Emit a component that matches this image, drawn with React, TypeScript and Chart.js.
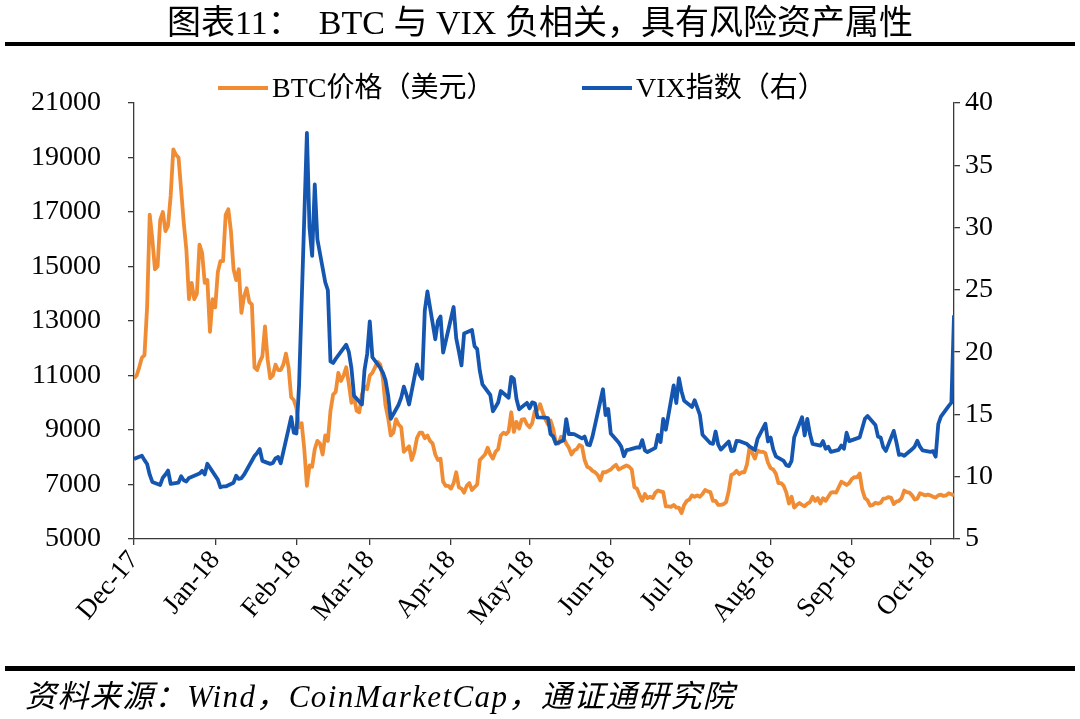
import { useEffect, useRef } from "react";
import { Chart, registerables } from "chart.js";

Chart.register(...registerables);

const titleText = "图表11：  BTC 与 VIX 负相关，具有风险资产属性";
const sourceText = "资料来源：Wind，CoinMarketCap，通证通研究院";
const btcLabel = "BTC价格（美元）";
const vixLabel = "VIX指数（右）";

const startDate = "2017-12-01";
const monthTickDates = [
  "2017-12-01", "2018-01-01", "2018-02-01", "2018-03-01", "2018-04-01", "2018-05-01",
  "2018-06-01", "2018-07-01", "2018-08-01", "2018-09-01", "2018-10-01",
];
const monthTickLabels = [
  "Dec-17", "Jan-18", "Feb-18", "Mar-18", "Apr-18", "May-18",
  "Jun-18", "Jul-18", "Aug-18", "Sep-18", "Oct-18",
];

// BTC daily price (USD), 2017-12-01 .. 2018-10-10
const btcValues = [
  // Dec 2017
  10900, 11000, 11300, 11650, 11750, 13500, 16900, 16000, 14900, 15000,
  16700, 17000, 16300, 16500, 17600, 19300, 19100, 19000, 17800, 16600,
  15600, 13800, 14400, 13800, 14000, 15800, 15500, 14400, 14500, 12600, 13800,
  // Jan 2018
  13500, 14800, 15200, 15200, 16900, 17100, 16300, 14900, 14500, 14900,
  13300, 13900, 14200, 13700, 13600, 11300, 11200, 11500, 11700, 12800,
  11600, 10900, 11000, 11400, 11200, 11200, 11400, 11800, 11300, 10200, 10100,
  // Feb
  9800, 9100, 9250, 8300, 6950, 7700, 7650, 8300, 8600, 8500,
  8100, 8800, 8600, 9700, 10300, 10400, 11100, 10800, 11000, 11300,
  10700, 10000, 10200, 9700, 9650, 10300, 10600, 10500,
  // Mar
  11000, 11100, 11300, 11500, 11400, 10900, 9900, 9450, 8800, 8900,
  9400, 9200, 9100, 8200, 8300, 8400, 7900, 8200, 8700, 8900,
  8900, 8700, 8800, 8600, 8500, 8100, 7900, 7950, 7100, 6950, 6950,
  // Apr
  6850, 7050, 7450, 6900, 6850, 6700, 6950, 7050, 6800, 6900,
  7000, 7900, 8000, 8100, 8350, 8100, 7950, 8200, 8300, 8800,
  8900, 8850, 8950, 9650, 8930, 9300, 9050, 9380, 9400, 9200,
  // May
  9100, 9250, 9700, 9750, 9950, 9650, 9400, 9200, 9350, 9050,
  8550, 8500, 8750, 8700, 8500, 8350, 8100, 8250, 8300, 8450,
  8400, 7900, 7650, 7600, 7500, 7450, 7350, 7150, 7450, 7450, 7500,
  // Jun
  7550, 7650, 7720, 7550, 7600, 7650, 7700, 7650, 7550, 6900,
  6850, 6600, 6400, 6650, 6500, 6550, 6500, 6700, 6780, 6750,
  6720, 6200, 6200, 6180, 6250, 6150, 6150, 5950, 6250, 6400,
  // Jul
  6450, 6600, 6550, 6600, 6550, 6650, 6800, 6750, 6720, 6400,
  6400, 6250, 6250, 6280, 6350, 6750, 7350, 7400, 7500, 7380,
  7450, 7450, 7750, 8380, 8150, 7950, 8250, 8200, 8200, 8150, 7800,
  // Aug
  7600, 7550, 7400, 7050, 7050, 6950, 6700, 6300, 6550, 6150,
  6250, 6320, 6250, 6200, 6300, 6350, 6550, 6400, 6500, 6300,
  6500, 6400, 6550, 6700, 6720, 6700, 6900, 7100, 7050, 6980, 7050,
  // Sep
  7200, 7270, 7260, 7400, 6800, 6500, 6420, 6220, 6250, 6330,
  6300, 6330, 6480, 6490, 6540, 6510, 6280, 6370, 6400, 6500,
  6780, 6720, 6700, 6600, 6450, 6480, 6680, 6640, 6600, 6630,
  // Oct
  6600, 6550, 6520, 6600, 6630, 6580, 6600, 6680, 6640, 6600,
];

// VIX closes on trading days
const vixDates = [
  "2017-12-01", "2017-12-04", "2017-12-05", "2017-12-06", "2017-12-07", "2017-12-08", "2017-12-11", "2017-12-12", "2017-12-13", "2017-12-14",
  "2017-12-15", "2017-12-18", "2017-12-19", "2017-12-20", "2017-12-21", "2017-12-22", "2017-12-26", "2017-12-27", "2017-12-28", "2017-12-29",
  "2018-01-02", "2018-01-03", "2018-01-04", "2018-01-05", "2018-01-08", "2018-01-09", "2018-01-10", "2018-01-11", "2018-01-12", "2018-01-16",
  "2018-01-17", "2018-01-18", "2018-01-19", "2018-01-22", "2018-01-23", "2018-01-24", "2018-01-25", "2018-01-26", "2018-01-29", "2018-01-30", "2018-01-31",
  "2018-02-01", "2018-02-02", "2018-02-05", "2018-02-06", "2018-02-07", "2018-02-08", "2018-02-09", "2018-02-12", "2018-02-13", "2018-02-14",
  "2018-02-15", "2018-02-16", "2018-02-20", "2018-02-21", "2018-02-22", "2018-02-23", "2018-02-26", "2018-02-27", "2018-02-28",
  "2018-03-01", "2018-03-02", "2018-03-05", "2018-03-06", "2018-03-07", "2018-03-08", "2018-03-09", "2018-03-12", "2018-03-13", "2018-03-14",
  "2018-03-15", "2018-03-16", "2018-03-19", "2018-03-20", "2018-03-21", "2018-03-22", "2018-03-23", "2018-03-26", "2018-03-27", "2018-03-28", "2018-03-29",
  "2018-04-02", "2018-04-03", "2018-04-04", "2018-04-05", "2018-04-06", "2018-04-09", "2018-04-10", "2018-04-11", "2018-04-12", "2018-04-13",
  "2018-04-16", "2018-04-17", "2018-04-18", "2018-04-19", "2018-04-20", "2018-04-23", "2018-04-24", "2018-04-25", "2018-04-26", "2018-04-27", "2018-04-30",
  "2018-05-01", "2018-05-02", "2018-05-03", "2018-05-04", "2018-05-07", "2018-05-08", "2018-05-09", "2018-05-10", "2018-05-11", "2018-05-14",
  "2018-05-15", "2018-05-16", "2018-05-17", "2018-05-18", "2018-05-21", "2018-05-22", "2018-05-23", "2018-05-24", "2018-05-25", "2018-05-29", "2018-05-30", "2018-05-31",
  "2018-06-01", "2018-06-04", "2018-06-05", "2018-06-06", "2018-06-07", "2018-06-08", "2018-06-11", "2018-06-12", "2018-06-13", "2018-06-14",
  "2018-06-15", "2018-06-18", "2018-06-19", "2018-06-20", "2018-06-21", "2018-06-22", "2018-06-25", "2018-06-26", "2018-06-27", "2018-06-28", "2018-06-29",
  "2018-07-02", "2018-07-03", "2018-07-05", "2018-07-06", "2018-07-09", "2018-07-10", "2018-07-11", "2018-07-12", "2018-07-13", "2018-07-16",
  "2018-07-17", "2018-07-18", "2018-07-19", "2018-07-20", "2018-07-23", "2018-07-24", "2018-07-25", "2018-07-26", "2018-07-27", "2018-07-30", "2018-07-31",
  "2018-08-01", "2018-08-02", "2018-08-03", "2018-08-06", "2018-08-07", "2018-08-08", "2018-08-09", "2018-08-10", "2018-08-13", "2018-08-14",
  "2018-08-15", "2018-08-16", "2018-08-17", "2018-08-20", "2018-08-21", "2018-08-22", "2018-08-23", "2018-08-24", "2018-08-27", "2018-08-28",
  "2018-08-29", "2018-08-30", "2018-08-31",
  "2018-09-04", "2018-09-05", "2018-09-06", "2018-09-07", "2018-09-10", "2018-09-11", "2018-09-12", "2018-09-13", "2018-09-14", "2018-09-17",
  "2018-09-18", "2018-09-19", "2018-09-20", "2018-09-21", "2018-09-24", "2018-09-25", "2018-09-26", "2018-09-27", "2018-09-28",
  "2018-10-01", "2018-10-02", "2018-10-03", "2018-10-04", "2018-10-05", "2018-10-08", "2018-10-09", "2018-10-10",
];
const vixValues = [
  11.43, 11.68, 11.33, 11.02, 10.16, 9.58, 9.34, 9.92, 10.18, 10.49,
  9.42, 9.53, 10.03, 9.72, 9.62, 9.9, 10.25, 10.47, 10.18, 11.04,
  9.77, 9.15, 9.22, 9.22, 9.52, 10.08, 9.82, 9.88, 10.16, 11.66,
  11.91, 12.22, 11.27, 11.03, 11.1, 11.47, 11.58, 11.08, 13.84, 14.79, 13.54,
  13.47, 17.31, 37.6, 29.98, 27.73, 33.46, 29.06, 25.61, 24.97, 19.26,
  19.13, 19.46, 20.6, 20.02, 18.72, 16.49, 15.8, 18.59, 19.85,
  22.47, 19.59, 18.73, 18.36, 17.76, 16.54, 14.64, 15.78, 16.35, 17.23,
  16.59, 15.8, 19.02, 18.2, 17.86, 23.34, 24.87, 21.03, 22.5, 22.87, 19.97,
  23.62, 21.1, 20.06, 18.94, 21.49, 21.77, 20.47, 20.24, 18.49, 17.41,
  16.56, 15.25, 15.6, 15.96, 16.88, 16.34, 18.02, 17.84, 16.24, 15.41, 15.93,
  15.49, 15.97, 15.9, 14.77, 14.75, 14.71, 13.42, 13.23, 12.65, 12.93,
  14.63, 13.42, 13.43, 13.42, 13.08, 13.22, 12.58, 12.53, 13.22, 17.02, 14.94, 15.43,
  13.46, 12.74, 12.4, 11.64, 12.13, 12.18, 12.35, 12.34, 12.94, 12.12,
  11.98, 12.31, 13.35, 12.79, 14.64, 13.77, 17.33, 15.92, 17.91, 16.85, 16.09,
  15.6, 16.14, 14.97, 13.37, 12.69, 12.64, 13.63, 12.58, 12.18, 12.83,
  12.06, 12.1, 12.87, 12.86, 12.62, 12.41, 12.29, 12.14, 13.03, 14.26, 12.83,
  13.15, 12.19, 11.64, 11.27, 10.93, 10.85, 11.27, 13.16, 14.78, 13.31,
  14.64, 13.45, 12.64, 12.49, 12.86, 12.25, 12.41, 11.99, 12.16, 12.5,
  12.25, 13.53, 12.86,
  13.16, 13.91, 14.65, 14.88, 14.16, 13.22, 13.14, 12.37, 12.07, 13.68,
  12.79, 11.75, 11.8, 11.68, 12.2, 12.42, 12.89, 12.41, 12.12,
  12.0, 12.05, 11.61, 14.22, 14.82, 15.69, 15.95, 22.96,
];

const btcColor = "#F08C34";
const vixColor = "#1557B0";
const axisColor = "#3a3a3a";
const serif = "'Liberation Serif', 'Times New Roman', 'Noto Sans CJK SC', serif";

const dayIndex = (iso: string) =>
  Math.round((Date.parse(iso + "T00:00:00Z") - Date.parse(startDate + "T00:00:00Z")) / 86400000);

const monthTickDays = monthTickDates.map(dayIndex);

export default function App() {
  const canvasRef = useRef<HTMLCanvasElement | null>(null);

  useEffect(() => {
    document.body.style.margin = "0";
    const canvas = canvasRef.current;
    if (!canvas) return;
    const tickFont = { family: serif, size: 28 };
    const chart = new Chart(canvas, {
      type: "line",
      data: {
        datasets: [
          {
            label: btcLabel,
            data: btcValues.map((v, i) => ({ x: i, y: v })),
            borderColor: btcColor,
            backgroundColor: btcColor,
            borderWidth: 3.8,
            pointRadius: 0,
            tension: 0,
            yAxisID: "y",
            order: 1,
            borderJoinStyle: "round",
          },
          {
            label: vixLabel,
            data: vixDates.map((d, i) => ({ x: dayIndex(d), y: vixValues[i] })),
            borderColor: vixColor,
            backgroundColor: vixColor,
            borderWidth: 3.8,
            pointRadius: 0,
            tension: 0,
            yAxisID: "y1",
            order: 0,
            borderJoinStyle: "round",
          },
        ],
      },
      options: {
        responsive: false,
        maintainAspectRatio: false,
        animation: false,
        layout: { padding: { top: 103, left: 0, right: 0, bottom: 0 } },
        plugins: {
          legend: { display: false },
          tooltip: { enabled: false },
          title: { display: false },
        },
        scales: {
          x: {
            type: "linear",
            min: 0,
            max: btcValues.length - 1,
            afterBuildTicks: (scale: any) => {
              scale.ticks = monthTickDays.map((v) => ({ value: v }));
            },
            afterFit: (scale: any) => {
              scale.height = 180;
            },
            ticks: {
              autoSkip: false,
              maxRotation: 50,
              minRotation: 50,
              padding: 0,
              color: "#000",
              font: { family: serif, size: 27 },
              callback: (value: any) => {
                const i = monthTickDays.indexOf(Math.round(Number(value)));
                return i >= 0 ? monthTickLabels[i] : "";
              },
            },
            grid: { drawOnChartArea: false, drawTicks: true, tickLength: 6, color: axisColor, lineWidth: 1.3 },
            border: { color: axisColor, width: 1.3 },
          },
          y: {
            position: "left",
            min: 5000,
            max: 21000,
            afterFit: (scale: any) => {
              scale.width = 134;
            },
            ticks: { stepSize: 2000, padding: 27, color: "#000", font: tickFont, callback: (v: any) => String(v) },
            grid: { drawOnChartArea: false, drawTicks: true, tickLength: 6, color: axisColor, lineWidth: 1.3 },
            border: { color: axisColor, width: 1.3 },
          },
          y1: {
            position: "right",
            min: 5,
            max: 40,
            afterFit: (scale: any) => {
              scale.width = 126;
            },
            ticks: { stepSize: 5, padding: 5, color: "#000", font: tickFont, callback: (v: any) => String(v) },
            grid: { drawOnChartArea: false, drawTicks: true, tickLength: 6, color: axisColor, lineWidth: 1.3 },
            border: { color: axisColor, width: 1.3 },
          },
        },
      },
    } as any);
    return () => chart.destroy();
  }, []);

  const legendItem = (left: number, color: string, label: string) => (
    <div style={{ position: "absolute", left, top: 73, height: 30, display: "flex", alignItems: "center" }}>
      <div style={{ width: 50, height: 4, background: color, marginRight: 4 }} />
      <span style={{ fontFamily: serif, fontSize: 28, lineHeight: "30px", color: "#000", whiteSpace: "pre" }}>{label}</span>
    </div>
  );

  return (
    <div style={{ position: "relative", width: 1080, height: 719, background: "#fff", overflow: "hidden" }}>
      <canvas ref={canvasRef} width={1080} height={719} style={{ position: "absolute", left: 0, top: 0, width: 1080, height: 719, display: "block" }} />
      <div
        style={{
          position: "absolute",
          left: 0,
          top: 3,
          width: 1080,
          textAlign: "center",
          fontFamily: serif,
          fontSize: 34,
          lineHeight: "40px",
          color: "#000",
          whiteSpace: "pre",
        }}
      >
        {titleText}
      </div>
      <div style={{ position: "absolute", left: 5, top: 42, width: 1070, height: 4, background: "#000" }} />
      {legendItem(218, btcColor, btcLabel)}
      {legendItem(582, vixColor, vixLabel)}
      <div style={{ position: "absolute", left: 5, top: 666, width: 1070, height: 5, background: "#000" }} />
      <div
        style={{
          position: "absolute",
          left: 25,
          top: 679,
          fontFamily: serif,
          fontStyle: "italic",
          fontSize: 31,
          lineHeight: "36px",
          letterSpacing: "1.4px",
          color: "#000",
          whiteSpace: "pre",
        }}
      >
        {sourceText}
      </div>
    </div>
  );
}
